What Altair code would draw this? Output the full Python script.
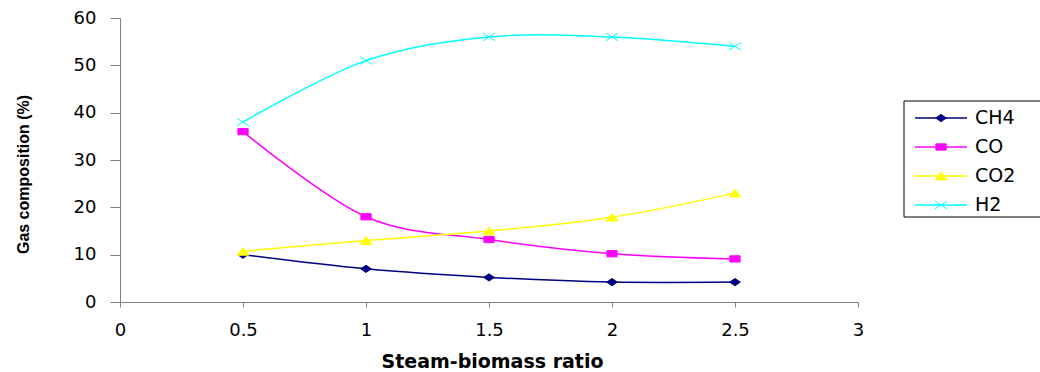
import altair as alt
import pandas as pd

# ---- data ----
ratio = [0.5, 1.0, 1.5, 2.0, 2.5]
series = ["CH4", "CO", "CO2", "H2"]
ch4 = [10.0, 7.0, 5.2, 4.2, 4.2]
co = [36.0, 18.0, 13.2, 10.2, 9.1]
co2 = [10.7, 13.0, 15.0, 17.9, 23.0]
h2 = [38.0, 51.0, 56.0, 56.0, 54.0]
colors = ["#000080", "#FF00FF", "#FFFF00", "#00FFFF"]
x_ticks = [0, 0.5, 1, 1.5, 2, 2.5, 3]
y_ticks = [0, 10, 20, 30, 40, 50, 60]

# flattened Excel-like marker shapes (diamond, square, triangle, x)
shapes = [
    "M-0.97,0L0,-0.66L0.97,0L0,0.66Z",
    "M-0.93,-0.57H0.93V0.57H-0.93Z",
    "M-1.06,0.7L0,-0.7L1.06,0.7Z",
    "M-1.1,-0.7L1.1,0.7M-1.1,0.7L1.1,-0.7",
]

rows = []
for name, vals in zip(series, [ch4, co, co2, h2]):
    for xv, v in zip(ratio, vals):
        rows.append({"gas": name, "ratio": xv, "value": v})
df = pd.DataFrame(rows)
legend_df = pd.DataFrame({"gas": series})
box_df = pd.DataFrame({"gas": [series[0]]})

W, H = 738, 284
FONT = "DejaVu Sans"
color_scale = alt.Scale(domain=series, range=colors)
shape_scale = alt.Scale(domain=series, range=shapes)

x_enc = alt.X(
    "ratio:Q",
    scale=alt.Scale(domain=[0, 3], nice=False, zero=False),
    axis=alt.Axis(
        values=x_ticks, title="Steam-biomass ratio", tickSize=5, labelPadding=14,
        labelFlush=False, labelOverlap=False, format="~g",
        titleX=372, titleY=65, titleBaseline="alphabetic", titleAlign="center",
        titleFontSize=19,
    ),
)
y_enc = alt.Y(
    "value:Q",
    scale=alt.Scale(domain=[0, 60], nice=False),
    axis=alt.Axis(
        values=y_ticks, title="Gas composition (%)", tickSize=10, labelPadding=14,
        labelOverlap=False, titleX=-97, titleY=156, titleAngle=270,
        titleBaseline="middle", titleAlign="center",
        titleFont="Liberation Sans", titleFontSize=16,
    ),
)

lines = alt.Chart(df).mark_line(interpolate="cardinal", strokeWidth=1.5).encode(
    x=x_enc, y=y_enc,
    color=alt.Color("gas:N", scale=color_scale, legend=None),
    detail="gas:N",
)
points = alt.Chart(df).mark_point(filled=True, size=121, strokeWidth=1, opacity=1).encode(
    x="ratio:Q", y="value:Q",
    fill=alt.Fill("gas:N", scale=color_scale, legend=None),
    stroke=alt.Stroke("gas:N", scale=color_scale, legend=None),
    shape=alt.Shape("gas:N", scale=shape_scale, legend=None),
)

leg_y = alt.Y("gas:N", scale=alt.Scale(type="point", domain=series, range=[100, 187], padding=0), axis=None)

box = alt.Chart(box_df).mark_rect(fill="white", stroke="black", strokeWidth=1).encode(
    x=alt.value(784), x2=alt.value(935), y=alt.value(83), y2=alt.value(199)
)
leg_rule = alt.Chart(legend_df).mark_rule(strokeWidth=1.5).encode(
    x=alt.value(795), x2=alt.value(847), y=leg_y,
    color=alt.Color("gas:N", scale=color_scale, legend=None),
)
leg_pt = alt.Chart(legend_df).mark_point(filled=True, size=121, strokeWidth=1, opacity=1).encode(
    x=alt.value(821), y=leg_y,
    fill=alt.Fill("gas:N", scale=color_scale, legend=None),
    stroke=alt.Stroke("gas:N", scale=color_scale, legend=None),
    shape=alt.Shape("gas:N", scale=shape_scale, legend=None),
)
leg_txt = alt.Chart(legend_df).mark_text(
    align="left", baseline="middle", font=FONT, fontSize=19, color="black"
).encode(x=alt.value(855), y=leg_y, text="gas:N")

plot = alt.layer(lines, points)
legend = alt.layer(box, leg_rule, leg_pt, leg_txt)

chart = (
    alt.layer(plot, legend)
    .resolve_scale(y="independent")
    .properties(
        width=W, height=H,
        padding={"left": 120, "top": 18, "right": 182, "bottom": 70},
        autosize=alt.AutoSizeParams(type="none"),
        background="white",
    )
    .configure_view(stroke=None)
    .configure_axis(
        grid=False, domainColor="#808080", tickColor="#808080",
        domainWidth=1, tickWidth=1,
        labelColor="black", titleColor="black",
        labelFont=FONT, labelFontSize=18,
        titleFont=FONT, titleFontWeight="bold",
    )
)

chart.save("out.html", embed_options={"renderer": "svg", "actions": False})
